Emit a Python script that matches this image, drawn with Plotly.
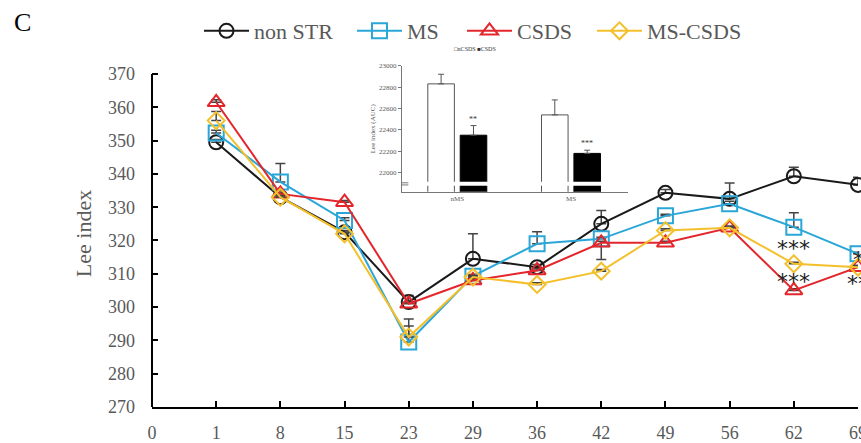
import plotly.graph_objects as go

# ---------------- data ----------------
days = ["0", "1", "8", "15", "23", "29", "36", "42", "49", "56", "62", "69"]
series_names = ["non STR", "MS", "CSDS", "MS-CSDS"]

non_str = [349.5, 333.0, 322.5, 301.5, 314.5, 312.0, 325.0, 334.3, 332.5, 339.3, 336.7]
ms = [352.3, 337.6, 326.0, 289.5, 309.3, 319.0, 320.5, 327.4, 331.0, 324.0, 316.0]
csds = [361.5, 334.0, 331.5, 301.0, 308.0, 311.0, 319.3, 319.3, 323.8, 305.0, 312.0]
ms_csds = [356.0, 333.0, 322.0, 291.0, 309.0, 306.8, 310.8, 323.0, 323.8, 313.0, 312.0]

non_str_up = [0.8, 0.5, 0.5, 2.0, 7.5, 0.8, 4.0, 1.0, 4.8, 2.7, 2.3]
ms_up = [0.8, 5.5, 0.8, 4.8, 0.5, 3.6, 0.5, 0.5, 0.8, 4.3, 0.5]
csds_up = [0.8, 0.5, 0.5, 0.5, 0.5, 0.5, 0.5, 0.5, 0.5, 0.5, 0.5]
csds_down = [0, 0, 0, 0, 0, 0, 5.0, 0, 0, 0, 0]
ms_csds_up = [2.7, 0.5, 0.5, 5.4, 0.5, 0.5, 0.5, 0.5, 0.5, 0.5, 0.5]

# inset (AUC)
inset_groups = ["nMS", "MS"]
auc_ncsds = [22830, 22540]
auc_csds = [22350, 22180]
auc_ncsds_err = [90, 140]
auc_csds_err = [90, 30]
inset_sig = ["**", "***"]

y_ticks = [270, 280, 290, 300, 310, 320, 330, 340, 350, 360, 370]

# ---------------- figure ----------------
pos = list(range(len(days)))
xs = pos[1:]

colors = ["#1a1a1a", "#2aa6d8", "#e3262b", "#f3c02c"]
symbols = ["circle-open", "square-open", "triangle-up-open", "diamond-open"]
sizes = [14, 15, 15, 13]
values = [non_str, ms, csds, ms_csds]
ups = [non_str_up, ms_up, csds_up, ms_csds_up]
downs = [[0] * 11, [0] * 11, csds_down, [0] * 11]
legend_ids = ["legend", "legend2", "legend3", "legend4"]
legend_px = [199, 352, 462, 592]

serif = "Liberation Serif"
grey = "#595959"

fig = go.Figure()
for name, col, sym, sz, v, up, dn, lg in zip(series_names, colors, symbols, sizes, values,
                                             ups, downs, legend_ids):
    fig.add_trace(go.Scatter(
        x=xs, y=v, name=name, mode="lines+markers", legend=lg,
        line=dict(color=col, width=2),
        marker=dict(symbol=sym, size=sz, color=col, line=dict(width=2, color=col)),
        error_y=dict(type="data", symmetric=False, array=up, arrayminus=dn,
                     color="#444444", thickness=1.5, width=5),
        cliponaxis=False,
    ))

# inset bars
fig.add_trace(go.Bar(
    x=inset_groups, y=auc_ncsds, name="nCSDS", showlegend=False,
    marker=dict(color="white", line=dict(color="#555555", width=1)),
    error_y=dict(type="data", symmetric=False, array=auc_ncsds_err, arrayminus=[0, 0],
                 color="#555555", thickness=1, width=3),
    xaxis="x2", yaxis="y2",
))
fig.add_trace(go.Bar(
    x=inset_groups, y=auc_csds, name="CSDS", showlegend=False,
    marker=dict(color="black", line=dict(color="black", width=1)),
    error_y=dict(type="data", symmetric=False, array=auc_csds_err, arrayminus=[0, 0],
                 color="#555555", thickness=1, width=3),
    xaxis="x2", yaxis="y2",
))

PL, PR, PT, PB = 152, 858, 60, 407


def px_x(p):
    return (p - PL) / (PR - PL)


def px_y(p):
    return (PB - p) / (PB - PT)


legend_layout = {}
for lg, lx in zip(legend_ids, legend_px):
    legend_layout[lg] = dict(x=px_x(lx), xanchor="left", y=px_y(31), yanchor="middle",
                             orientation="h", font=dict(family=serif, size=22, color=grey),
                             bgcolor="rgba(0,0,0,0)", itemwidth=45)

fig.update_layout(
    width=861, height=443,
    margin=dict(l=PL, r=861 - PR, t=PT, b=443 - PB, autoexpand=False),
    paper_bgcolor="white", plot_bgcolor="white",
    font=dict(family=serif, color=grey),
    barmode="group", bargap=0.43, bargroupgap=0.18,
    showlegend=True,
    xaxis=dict(range=[0, 11], tickvals=pos, ticktext=days, showgrid=False, zeroline=False,
               automargin=False,
               showline=True, linecolor="black", linewidth=2,
               ticks="inside", ticklen=6, tickwidth=2, tickcolor="black",
               ticklabeloverflow="allow",
               tickfont=dict(family=serif, size=18, color=grey), ticklabelstandoff=8),
    yaxis=dict(range=[270, 374.2], tickvals=y_ticks, showgrid=False, zeroline=False,
               automargin=False,
               showline=False, ticks="inside", ticklen=6, tickwidth=2, tickcolor="black",
               tickfont=dict(family=serif, size=18, color=grey), ticklabelstandoff=16,
               title=dict(text="Lee index", font=dict(family=serif, size=22, color=grey), standoff=10)),
    xaxis2=dict(domain=[0.354, 0.674], anchor="y2", range=[-0.487, 1.5], type="category",
                automargin=False,
                showline=True, linecolor="#777777", linewidth=1, showgrid=False, ticks="",
                tickfont=dict(family=serif, size=7, color=grey)),
    yaxis2=dict(domain=[0.6205, 0.9836], anchor="x2", range=[21822, 23000], dtick=200,
                tick0=22000, tickformat="d", showgrid=False, zeroline=False,
                automargin=False,
                showline=True, linecolor="#777777", linewidth=1, ticks="outside",
                ticklen=3, tickcolor="#777777",
                tickfont=dict(family=serif, size=7, color=grey),
                title=dict(text="Lee index (AUC)", font=dict(family=serif, size=7, color=grey), standoff=2)),
    **legend_layout,
)

# main y-axis line only from 270 to 370
fig.add_shape(type="line", xref="paper", yref="y", x0=0, x1=0, y0=270, y1=370,
              line=dict(color="black", width=2))

# inset axis break
fig.add_shape(type="rect", xref="x2", yref="y2", x0=-0.47, x1=1.5, y0=21878, y1=21916,
              fillcolor="white", line=dict(width=0), layer="above")
for yb in (21885, 21905):
    fig.add_shape(type="line", xref="x2", yref="y2", x0=-0.54, x1=-0.43, y0=yb, y1=yb,
                  line=dict(color="#777777", width=1), layer="above")

# significance on main chart
ann = [
    dict(x=xs[9], y=ms_csds[9] + 4.7, text="***"),
    dict(x=xs[9], y=csds[9] + 2.8, text="***"),
    dict(x=xs[10], y=ms_csds[10] + 2.4, text="*"),
    dict(x=xs[10], y=csds[10] - 4.8, text="**"),
]
for a in ann:
    fig.add_annotation(x=a["x"], y=a["y"], text=a["text"], showarrow=False, xref="x", yref="y",
                       font=dict(family="DejaVu Sans", size=22, color="#222222"),
                       xanchor="center", yanchor="middle")

# significance on inset
for g, v, e, s in zip(inset_groups, auc_csds, auc_csds_err, inset_sig):
    fig.add_annotation(x=g, y=v + e, text=s, showarrow=False, xref="x2", yref="y2",
                       xshift=16, yanchor="bottom",
                       font=dict(family=serif, size=8, color="#333333"))

# inset legend
fig.add_annotation(x=px_x(475), y=px_y(49), xref="paper", yref="paper", showarrow=False,
                   xanchor="center", yanchor="middle",
                   text="□nCSDS ■CSDS", font=dict(family=serif, size=6, color="#333333"))

# panel letter
fig.add_annotation(x=px_x(22), y=px_y(22), xref="paper", yref="paper", showarrow=False,
                   xanchor="center", yanchor="middle",
                   text="C", font=dict(family=serif, size=26, color="black"))

fig.write_html("out.html")
